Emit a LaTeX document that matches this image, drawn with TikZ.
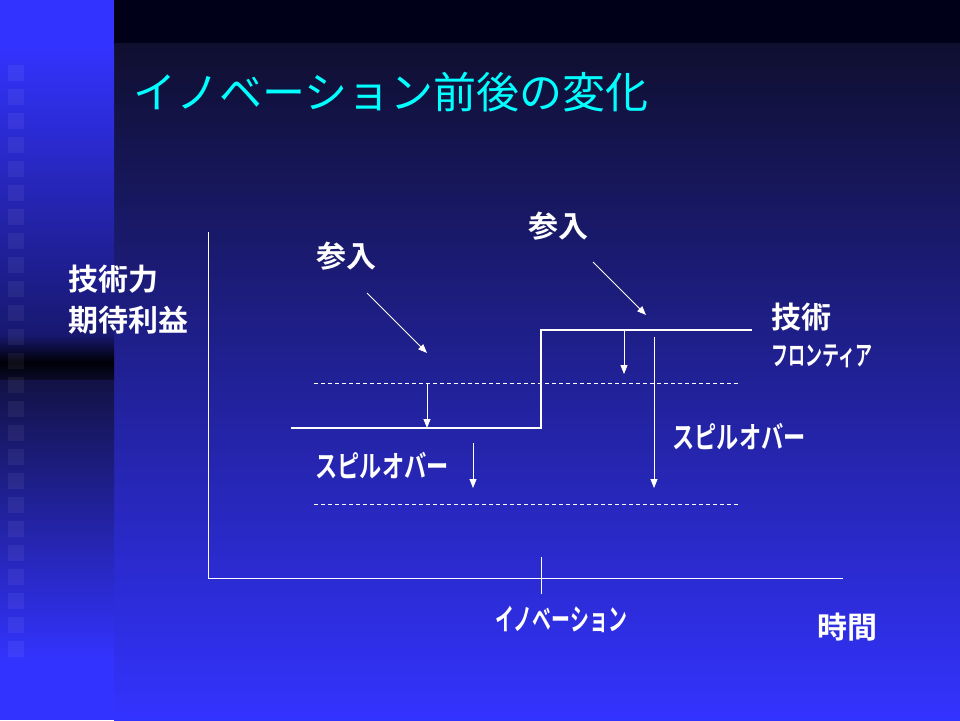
\documentclass[tikz,border=0pt]{standalone}
\usepackage{fontspec}
\newfontfamily\jpfont[BoldFont={* Bold}]{Noto Sans CJK JP}
\usetikzlibrary{arrows.meta}
\definecolor{slideblue}{HTML}{3333FF}
\definecolor{slidenavy}{HTML}{0F0F30}
\definecolor{stripdark}{HTML}{181870}
\definecolor{stripnight}{HTML}{000008}
\definecolor{striplow}{HTML}{121245}
\definecolor{titlecyan}{HTML}{00FFFF}
\tikzset{
  jptext/.style={text=white, inner sep=0pt, font=\jpfont\bfseries\fontsize{30}{41}\selectfont},
  narrowtext/.style={jptext, font=\jpfont\bfseries\fontsize{30}{30}\selectfont},
  axisline/.style={white, line width=1pt},
  stepline/.style={white, line width=1.6pt},
  levelline/.style={white, line width=0.8pt, dash pattern=on 4pt off 3pt},
  droparrow/.style={white, line width=0.8pt, -{Triangle[width=7pt,length=9pt]}},
}
\begin{document}
\begin{tikzpicture}[x=1pt, y=-1pt]
  \useasboundingbox (0,0) rectangle (960,720);
  % Background: main field, top bar and the left strip with its squares.
  \shade[top color=slidenavy, bottom color=slideblue] (114,43) rectangle (960,720);
  \fill[black!90!blue] (114,0) rectangle (960,43);
  \fill[slideblue] (0,0) rectangle (114,45);
  \shade[top color=slideblue, bottom color=stripdark] (0,45) rectangle (114,335);
  \shade[top color=stripdark, bottom color=stripnight] (0,335) rectangle (114,362);
  \shade[top color=stripnight, bottom color=striplow!60!black] (0,362) rectangle (114,380);
  \shade[top color=striplow, bottom color=slideblue] (0,380) rectangle (114,660);
  \fill[slideblue] (0,660) rectangle (114,720);
  \foreach \i in {0,...,24}
    \fill[white, opacity=0.055] (8,65+24*\i) rectangle ++(16,16);

  % Title
  \node[anchor=west, inner sep=0pt, text=titlecyan,
    font=\jpfont\fontsize{43}{43}\selectfont] (title) at (133,92) {イノベーション前後の変化};

  % Axes and the innovation tick
  \coordinate (origin) at (208,578);
  \coordinate (ytop) at (208,232);
  \coordinate (xend) at (843,578);
  \coordinate (ticktop) at (541,557);
  \coordinate (tickbot) at (541,594);
  \draw[axisline] (ytop) -- (origin) -- (xend);
  \draw[axisline] (ticktop) -- (tickbot);
  \node[jptext, anchor=west, align=left] (ylabel) at (68,300) {技術力\\期待利益};
  \node[jptext] (timelabel) at (847,627) {時間};
  \node[narrowtext, xscale=0.63] (innolabel) at (561,619) {イノベーション};

  % Frontier: low level, jump at the innovation, high level
  \coordinate (lowstart) at (291,428);
  \coordinate (jumpbot) at (541,428);
  \coordinate (jumptop) at (541,330);
  \coordinate (highend) at (752,330);
  \draw[stepline] (lowstart) -- (jumpbot) -- (jumptop) -- (highend);
  \node[jptext, anchor=west] (frontier) at (771,317) {技術};
  \node[narrowtext, anchor=west, font=\jpfont\bfseries\fontsize{27}{27}\selectfont, xscale=0.63]
    (frontier2) at (771,356) {フロンティア};

  % Dashed levels after spillover
  \coordinate (upperL) at (314,383);
  \coordinate (upperR) at (738,383);
  \coordinate (lowerL) at (314,504);
  \coordinate (lowerR) at (738,504);
  \draw[levelline] (upperL) -- (upperR);
  \draw[levelline] (lowerL) -- (lowerR);

  % Entry
  \node[jptext] (entryA) at (346,256) {参入};
  \node[jptext] (entryB) at (558,226) {参入};
  \coordinate (entryAfrom) at (367,293);
  \coordinate (entryAto) at (427,353);
  \coordinate (entryBfrom) at (593,262);
  \coordinate (entryBto) at (646,315);
  \draw[droparrow] (entryAfrom) -- (entryAto);
  \draw[droparrow] (entryBfrom) -- (entryBto);

  % Spillover drops
  \node[narrowtext, xscale=0.74] (spillA) at (382,466) {スピルオバー};
  \node[narrowtext, xscale=0.74] (spillB) at (739,437) {スピルオバー};
  \draw[droparrow] (427,383) coordinate (dropAfrom) -- (427,428) coordinate (dropAto);
  \draw[droparrow] (624,330) coordinate (dropBfrom) -- (624,374) coordinate (dropBto);
  \draw[droparrow] (473,443) coordinate (dropCfrom) -- (473,488) coordinate (dropCto);
  \draw[droparrow] (654,337) coordinate (dropDfrom) -- (654,488) coordinate (dropDto);
\end{tikzpicture}
\end{document}
